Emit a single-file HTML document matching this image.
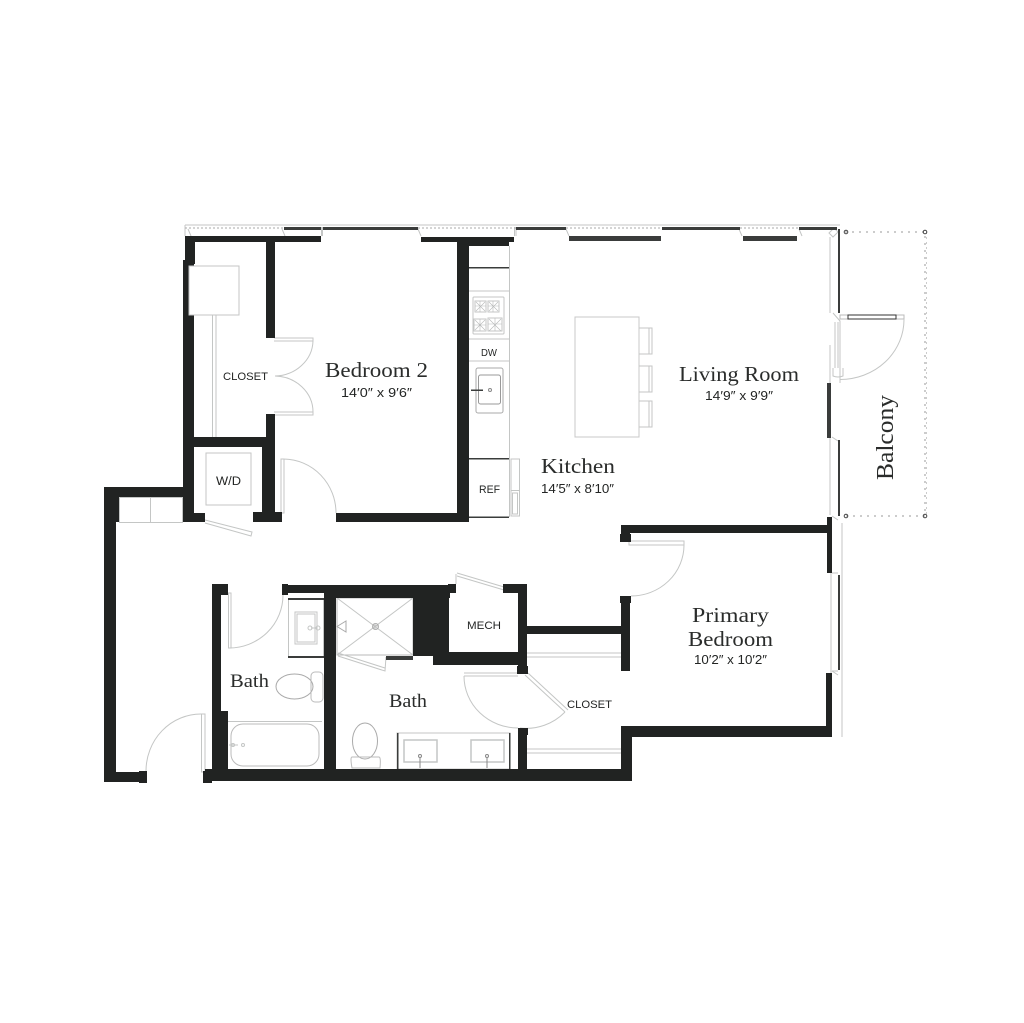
<!DOCTYPE html>
<html><head><meta charset="utf-8"><style>
html,body{margin:0;padding:0;background:#fff}
svg{display:block}
.s{font-family:"Liberation Serif",serif;fill:#2a2c2b}
.a{font-family:"Liberation Sans",sans-serif;fill:#232524}
</style></head><body>
<svg width="1024" height="1023" viewBox="0 0 1024 1023" xmlns="http://www.w3.org/2000/svg">
<rect width="1024" height="1023" fill="#fff"/>
<!-- light linework -->
<g fill="none" stroke="#c4c6c5" stroke-width="1">
<path d="M185 225H840M185 225V236M321.500 227V236M322.500 227V236M514.500 227V236M516 227V236"/>
<path d="M185 228H284M418 228H516M566 228H662M740 228H799" stroke-dasharray="2 2" stroke="#aaa"/>
<path d="M830 237V313M830 345V383M830 438V515"/>
<path d="M188 229l3 7M282 229l3 7M418 229l3 7M566 229l3 7M739 229l3 7M799 229l3 7M829 233l5 -5l4 4l-5 5z"/>
<!-- closet -->
<path d="M212.500 315V437M216 315V437"/>
<rect x="206" y="453" width="45" height="52"/>
<rect x="119.500" y="497.500" width="63" height="25"/>
<path d="M150.500 497V522"/>
<path d="M274 338H313V341H274M274 412H313V415H274"/>
<path d="M313 341A39 36 0 0 1 275 376M313 412A39 36 0 0 0 275 376"/>
<path d="M281 459H284V513H281zM284 459A53 54 0 0 1 336 513"/>
<path d="M205 520L252 532L251 536L205 523"/>
<!-- kitchen -->
<path d="M509.500 246V517M469 291H509M469 339H509M469 361H509"/>
<rect x="473" y="297" width="31" height="37" rx="1"/>
<rect x="475" y="301" width="11" height="11"/><rect x="488" y="301" width="11" height="11"/>
<rect x="474" y="319" width="12" height="12"/><rect x="488" y="318" width="14" height="13"/>
<path d="M476 302l9 9m0 -9l-9 9M489 302l9 9m0 -9l-9 9M475 320l10 10m0 -10l-10 10M489 319l12 12m0 -12l-12 12M480 301v11M475 306h11M493 301v11M488 306h11M480 319v12M474 325h12M495 318v13M488 324h14" stroke="#b8baba" stroke-width=".6"/>
<rect x="476" y="368" width="27" height="45" rx="2" stroke="#aaa"/>
<rect x="478.500" y="375" width="22" height="29" rx="2" stroke="#999"/>
<circle cx="490" cy="390" r="1.500" stroke="#888"/>
<rect x="575" y="317" width="64" height="120" stroke="#c8c8c8"/>
<path d="M639 328H652V354H639M639 366H652V392H639M639 401H652V427H639M649 328V354M649 366V392M649 401V427"/>
<rect x="511" y="459" width="8.500" height="57"/>
<path d="M511 490.500H519.500"/>
<rect x="512.500" y="493" width="5" height="21"/>
<!-- living right -->
<path d="M833 313L840 321V383M835 322V368M838 322V368"/>
<path d="M833 368V376Q838 378 843 376V368"/>
<rect x="840" y="315" width="64" height="4" stroke="#bbb"/>
<path d="M904 319A64 60 0 0 1 840 379.500"/>
<path d="M832 437L838 441M832 516L838 520"/>
<!-- primary right -->
<path d="M831 517V737M842 523V737M832 573H838M832 671H838M832 671l6 4"/>
<rect x="629" y="541" width="55" height="4"/>
<path d="M684 545A53 51 0 0 1 631 596"/>
<path d="M527 653H621M527 657H621M527 749H621M527 753H621"/>
<path d="M464 673H518M464 676H518M464 676A54 52 0 0 0 518 728M565 712A54 54 0 0 1 520 728"/>
<path d="M525 675L565 712M528 673L568 710"/>
<!-- bath 1 -->
<rect x="228.500" y="593" width="2.500" height="55"/>
<path d="M229 648A54 53 0 0 0 283 595"/>
<rect x="288.500" y="598.500" width="35" height="59"/>
<rect x="295" y="612" width="22" height="32"/><rect x="297" y="614" width="18" height="28"/>
<circle cx="310" cy="628" r="2"/><circle cx="318" cy="628" r="2"/><path d="M311 628h6"/>
<ellipse cx="294.500" cy="686.500" rx="18.500" ry="12.500" stroke="#aaa"/>
<rect x="311" y="672" width="12" height="30" rx="4" stroke="#bbb"/>
<path d="M228 721.500H322"/>
<rect x="231" y="724" width="88" height="42" rx="12" stroke="#bbb"/>
<path d="M229 745h9"/><circle cx="243" cy="745" r="1.500"/><circle cx="233" cy="745" r="1.500"/>
<rect x="201.500" y="714" width="3.500" height="58"/>
<path d="M201 714A55 57 0 0 0 146 771"/>
<!-- shower -->
<rect x="337" y="598" width="76" height="57" stroke="#b8baba"/>
<path d="M337 598L413 655M413 598L337 655"/>
<circle cx="375.500" cy="626.500" r="3" stroke="#aaa"/><path d="M375 623v7M372 626h7" stroke="#bbb"/>
<path d="M337 626.500L346 621V632Z" stroke="#aaa"/>
<path d="M338 656L385 671L386 657M338 653L385 668"/>
<!-- mech door -->
<path d="M457 573L504 587M457 576L504 590M456 574V584"/>
<!-- bath 2 -->
<ellipse cx="365" cy="741" rx="12.500" ry="18" stroke="#aaa"/>
<path d="M352 757H379Q381 757 380 768H352Q350 757 352 757Z" stroke="#bbb"/>
<rect x="397" y="733" width="113" height="36"/>
<rect x="404" y="740" width="33" height="22" stroke-width="1.500"/><rect x="471" y="740" width="33" height="22" stroke-width="1.500"/>
<path d="M420 758V768M487 758V768" stroke="#888"/>
<circle cx="420" cy="756" r="1.500" stroke="#888"/><circle cx="487" cy="756" r="1.500" stroke="#888"/>
<!-- balcony -->
<path d="M845 232H925V516H845" stroke-dasharray="2 5" stroke="#999"/>
<path d="M926.500 232V516" stroke="#ccc" stroke-dasharray="2 3"/>
<circle cx="846" cy="232" r="1.800" stroke="#444"/><circle cx="925" cy="232" r="1.800" stroke="#444"/>
<circle cx="846" cy="516" r="1.800" stroke="#444"/><circle cx="925" cy="516" r="1.800" stroke="#444"/>
</g>
<!-- dark window parts -->
<g fill="#3a3c3b">
<rect x="284" y="227" width="37" height="3"/><rect x="323" y="227" width="95" height="3"/>
<rect x="516" y="227" width="50" height="3"/><rect x="662" y="227" width="78" height="3"/><rect x="799" y="227" width="38" height="3"/>
<rect x="569" y="236" width="92" height="5"/><rect x="743" y="236" width="54" height="5"/>
<rect x="838" y="229" width="2" height="84"/>
<rect x="848" y="315" width="48" height="4" fill="none" stroke="#333" stroke-width="1"/>
<rect x="827" y="383" width="4" height="55"/>
<rect x="838" y="440" width="2" height="76"/>
<rect x="838" y="575" width="2" height="95"/>
<rect x="469" y="267" width="40" height="1.500"/><rect x="469" y="458" width="40" height="1.500"/><rect x="469" y="516.500" width="40" height="1.500"/>
<rect x="397" y="733" width="1.500" height="36"/><rect x="509" y="733" width="1.500" height="36"/>
<rect x="288" y="598" width="36" height="2"/><rect x="288" y="656" width="36" height="2"/>
<rect x="386" y="656" width="27" height="4"/>
<rect x="471" y="389.500" width="12" height="1.500"/>
</g>
<!-- walls -->
<g fill="#212322">
<rect x="185" y="236" width="136" height="6"/><rect x="185" y="236" width="10" height="28"/>
<rect x="183" y="260" width="11" height="262"/>
<rect x="194" y="437" width="72" height="10"/>
<rect x="266" y="242" width="9" height="96"/><rect x="266" y="414" width="9" height="33"/>
<rect x="262" y="437" width="13" height="85"/>
<rect x="183" y="513" width="22" height="9"/><rect x="253" y="512" width="29" height="10"/>
<rect x="104" y="487" width="81" height="10"/><rect x="104" y="487" width="15" height="35"/>
<rect x="104" y="487" width="12" height="295"/><rect x="104" y="772" width="36" height="10"/>
<rect x="139" y="771" width="8" height="12"/>
<rect x="336" y="513" width="133" height="9"/>
<rect x="457" y="237" width="12" height="285"/>
<rect x="421" y="237" width="93" height="5"/><rect x="469" y="242" width="40" height="4"/>
<rect x="621" y="525" width="210" height="8"/><rect x="621" y="525" width="9" height="10"/><rect x="620" y="534" width="11" height="8"/>
<rect x="827" y="517" width="5" height="56"/>
<rect x="620" y="596" width="11" height="7"/><rect x="621" y="603" width="9" height="68"/>
<rect x="526" y="626" width="95" height="8"/>
<rect x="826" y="673" width="6" height="64"/>
<rect x="621" y="726" width="211" height="11"/><rect x="621" y="726" width="11" height="55"/>
<rect x="203" y="771" width="9" height="12"/>
<rect x="205" y="769" width="427" height="12"/>
<rect x="212" y="585" width="9" height="186"/><rect x="212" y="711" width="16" height="60"/>
<rect x="212" y="584" width="16" height="11"/>
<rect x="282" y="584" width="6" height="11"/>
<rect x="282" y="585" width="168" height="8"/><rect x="324" y="585" width="126" height="13"/>
<rect x="324" y="598" width="12" height="172"/>
<rect x="413" y="598" width="36" height="58"/>
<rect x="433" y="652" width="94" height="13"/>
<rect x="448" y="584" width="8" height="9"/>
<rect x="503" y="584" width="24" height="9"/><rect x="518" y="585" width="9" height="88"/>
<rect x="517" y="666" width="11" height="8"/>
<rect x="518" y="728" width="10" height="7"/><rect x="518" y="735" width="9" height="35"/>
</g>
<!-- closet shelf box overlaps the wall -->
<rect x="189" y="266" width="50" height="49" fill="#fff" stroke="#c4c6c5"/>
<!-- labels -->
<text class="s" x="325" y="377" font-size="21" textLength="103" lengthAdjust="spacingAndGlyphs">Bedroom 2</text>
<text class="a" x="341" y="397" font-size="13" textLength="71" lengthAdjust="spacingAndGlyphs">14′0″ x 9′6″</text>
<text class="a" x="223" y="380" font-size="11" textLength="45" lengthAdjust="spacingAndGlyphs">CLOSET</text>
<text class="a" x="216" y="485" font-size="11.500" textLength="25" lengthAdjust="spacingAndGlyphs">W/D</text>
<text class="a" x="481" y="356" font-size="10" textLength="16" lengthAdjust="spacingAndGlyphs">DW</text>
<text class="a" x="479" y="493" font-size="11" textLength="21" lengthAdjust="spacingAndGlyphs">REF</text>
<text class="s" x="541" y="473" font-size="21" textLength="74" lengthAdjust="spacingAndGlyphs">Kitchen</text>
<text class="a" x="541" y="493" font-size="13" textLength="73" lengthAdjust="spacingAndGlyphs">14′5″ x 8′10″</text>
<text class="s" x="679" y="381" font-size="21" textLength="120" lengthAdjust="spacingAndGlyphs">Living Room</text>
<text class="a" x="705" y="400" font-size="13" textLength="68" lengthAdjust="spacingAndGlyphs">14′9″ x 9′9″</text>
<text class="s" transform="translate(893 480) rotate(-90)" x="0" y="0" font-size="24" textLength="85" lengthAdjust="spacingAndGlyphs">Balcony</text>
<text class="s" x="692" y="622" font-size="21" textLength="77" lengthAdjust="spacingAndGlyphs">Primary</text>
<text class="s" x="688" y="646" font-size="21" textLength="85" lengthAdjust="spacingAndGlyphs">Bedroom</text>
<text class="a" x="694" y="664" font-size="13" textLength="73" lengthAdjust="spacingAndGlyphs">10′2″ x 10′2″</text>
<text class="s" x="230" y="687" font-size="18.500" textLength="39" lengthAdjust="spacingAndGlyphs">Bath</text>
<text class="s" x="389" y="707" font-size="18.500" textLength="38" lengthAdjust="spacingAndGlyphs">Bath</text>
<text class="a" x="467" y="629" font-size="11" textLength="34" lengthAdjust="spacingAndGlyphs">MECH</text>
<text class="a" x="567" y="708" font-size="11" textLength="45" lengthAdjust="spacingAndGlyphs">CLOSET</text>
</svg>
</body></html>
